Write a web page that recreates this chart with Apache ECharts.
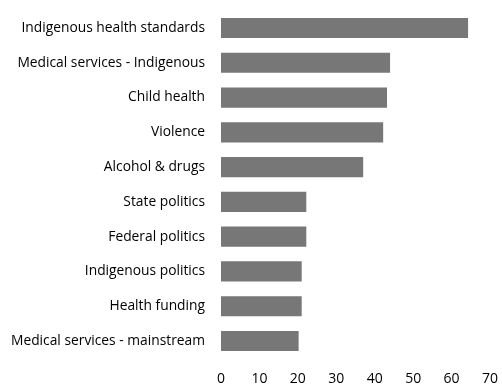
<!DOCTYPE html>
<html><head><meta charset="utf-8">
<script src="https://cdn.jsdelivr.net/npm/echarts@6/dist/echarts.min.js"></script>
<style>html,body{margin:0;padding:0;background:#fff}#c{width:502px;height:387px}</style>
</head><body><div id="c"></div>
<script>
const categories = ["Indigenous health standards","Medical services - Indigenous","Child health","Violence","Alcohol & drugs","State politics","Federal politics","Indigenous politics","Health funding","Medical services - mainstream"];
const values = [64.3, 44, 43.2, 42.2, 37, 22.2, 22.2, 21, 21, 20.2];
const xTicks = [0,10,20,30,40,50,60,70];
const font = "Open Sans";
const chart = echarts.init(document.getElementById('c'));
chart.setOption({
  animation:false,
  grid:{left:221,right:12,top:10.6,bottom:28.6,containLabel:false},
  xAxis:{type:'value',min:0,max:70,interval:10,
    axisLine:{show:false},axisTick:{show:false},splitLine:{show:false},
    axisLabel:{color:'#000',fontFamily:font,fontSize:14,margin:14,formatter:v=>xTicks.includes(v)?String(v):''}},
  yAxis:{type:'category',data:categories,inverse:true,
    axisLine:{show:false},axisTick:{show:false},
    axisLabel:{color:'#000',fontFamily:font,fontSize:13.8,margin:16}},
  series:[{type:'bar',data:values,barCategoryGap:'42%',itemStyle:{color:'#777777'}}]
});
</script></body></html>
